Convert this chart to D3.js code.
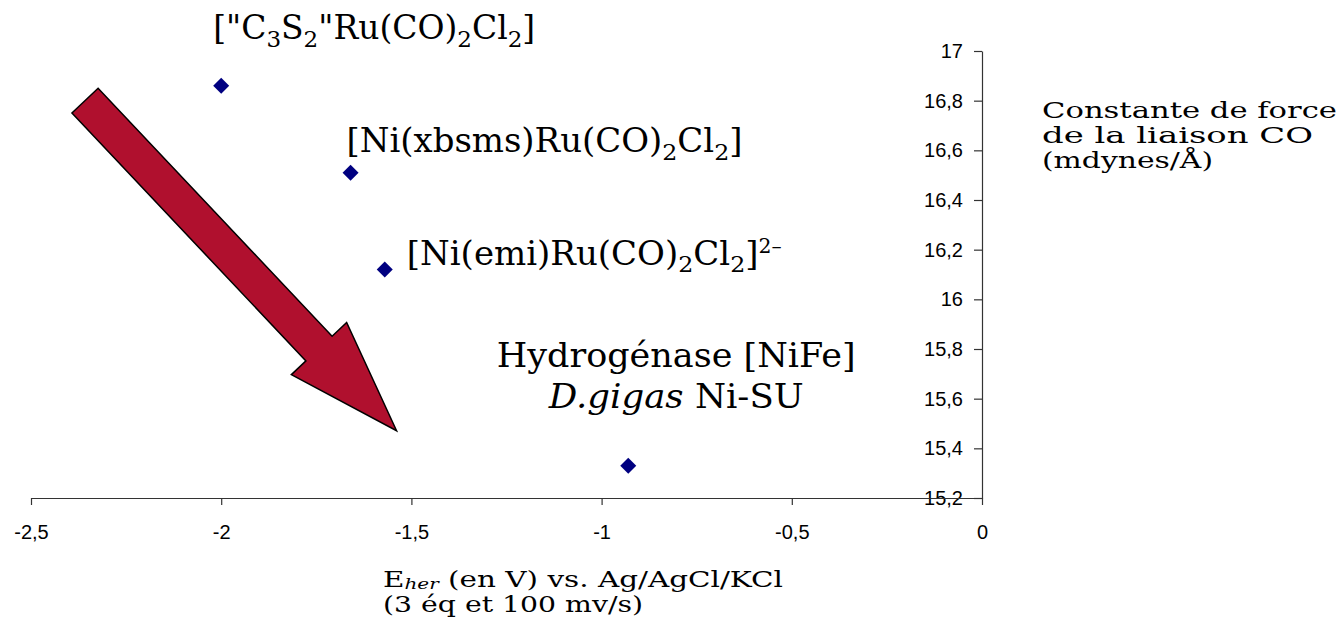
<!DOCTYPE html>
<html>
<head>
<meta charset="utf-8">
<script src="https://cdn.jsdelivr.net/npm/d3@7"></script>
<style>
  html, body { margin: 0; padding: 0; background: #fff; overflow: hidden; }
</style>
</head>
<body>
<div id="chart"></div>
<script>
// Chart data: E_her (V vs Ag/AgCl/KCl) vs CO force constant (mdynes/Å)
const compounds = [
    '["C3S2"Ru(CO)2Cl2]',
    '[Ni(xbsms)Ru(CO)2Cl2]',
    '[Ni(emi)Ru(CO)2Cl2]2–',
    'Hydrogénase [NiFe] D.gigas Ni-SU'
];
const eHer = [-2.0, -1.66, -1.57, -0.93];
const forceConst = [16.86, 16.51, 16.12, 15.33];
const xTicks = [-2.5, -2, -1.5, -1, -0.5, 0];
const yTicks = [15.2, 15.4, 15.6, 15.8, 16, 16.2, 16.4, 16.6, 16.8, 17];
// arrow drawn in data units: tail centre -> tip
const arrowFrom = [-2.358, 16.80];
const arrowTo = [-1.539, 15.471];

// rich-text pieces for the point labels (sub / sup / italic)
const labelParts = [
    [[{t: '["C'}, {t: '3', s: 'sub'}, {t: 'S'}, {t: '2', s: 'sub'}, {t: '"Ru(CO)'}, {t: '2', s: 'sub'}, {t: 'Cl'}, {t: '2', s: 'sub'}, {t: ']'}]],
    [[{t: '[Ni(xbsms)Ru(CO)'}, {t: '2', s: 'sub'}, {t: 'Cl'}, {t: '2', s: 'sub'}, {t: ']'}]],
    [[{t: '[Ni(emi)Ru(CO)'}, {t: '2', s: 'sub'}, {t: 'Cl'}, {t: '2', s: 'sub'}, {t: ']'}, {t: '2–', s: 'sup'}]],
    [[{t: 'Hydrogénase [NiFe]'}], [{t: 'D.gigas', s: 'it'}, {t: ' Ni-SU'}]]
];

const svgW = 1341, svgH = 632;
const serif = '"DejaVu Serif", "Liberation Serif", serif';
const sans = '"Liberation Sans", Arial, sans-serif';

const svg = d3.select('#chart').append('svg')
    .attr('width', svgW)
    .attr('height', svgH);

// scales
const x = d3.scaleLinear().domain([-2.5, 0]).range([31, 982]);
const y = d3.scaleLinear().domain([15.2, 17]).range([498, 51]);

const fr = d3.formatLocale({decimal: ',', thousands: '.', grouping: [3], currency: ['', ''], minus: '-'});
const fmt = fr.format('~g');

// y axis (drawn first so the x axis line crosses "15,2" like the original)
const yAxis = svg.append('g')
    .attr('transform', `translate(${x(0)},0)`)
    .call(d3.axisLeft(y).tickValues(yTicks).tickFormat(fmt).tickSize(8).tickSizeOuter(0).tickPadding(11));

const xAxis = svg.append('g')
    .attr('transform', `translate(0,${y(15.2)})`)
    .call(d3.axisBottom(x).tickValues(xTicks).tickFormat(fmt).tickSize(7).tickSizeOuter(0).tickPadding(20));

[yAxis, xAxis].forEach(g => {
    g.select('.domain').attr('stroke', '#333').attr('stroke-width', 1.2);
    g.selectAll('.tick line').attr('stroke', '#333').attr('stroke-width', 1.2);
    g.selectAll('.tick text')
        .attr('fill', '#000')
        .style('font-family', sans)
        .style('font-size', '20px');
});

// big red arrow
const p0 = [x(arrowFrom[0]), y(arrowFrom[1])];
const p1 = [x(arrowTo[0]), y(arrowTo[1])];
const len = Math.hypot(p1[0] - p0[0], p1[1] - p0[1]);
const ux = (p1[0] - p0[0]) / len, uy = (p1[1] - p0[1]) / len;
const nx = -uy, ny = ux;
const shaftHalf = 18, headHalf = 38, headLen = 113;
const bx = p1[0] - ux * headLen, by = p1[1] - uy * headLen;
const arrowPts = [
    [p0[0] + nx * shaftHalf, p0[1] + ny * shaftHalf],
    [bx + nx * shaftHalf, by + ny * shaftHalf],
    [bx + nx * headHalf, by + ny * headHalf],
    p1,
    [bx - nx * headHalf, by - ny * headHalf],
    [bx - nx * shaftHalf, by - ny * shaftHalf],
    [p0[0] - nx * shaftHalf, p0[1] - ny * shaftHalf]
];
svg.append('path')
    .attr('d', d3.line()(arrowPts) + 'Z')
    .attr('fill', '#b0102e')
    .attr('stroke', '#000')
    .attr('stroke-width', 1.5)
    .attr('stroke-linejoin', 'miter');

// points
const points = compounds.map((c, i) => ({name: c, ex: eHer[i], k: forceConst[i], parts: labelParts[i]}));

svg.selectAll('.pt')
    .data(points)
    .enter()
    .append('path')
    .attr('class', 'pt')
    .attr('d', d3.symbol(d3.symbolSquare, 128)())
    .attr('transform', d => `translate(${x(d.ex)},${y(d.k)}) rotate(45)`)
    .attr('fill', '#000080');

// writes a line of rich text into a <text> element
function richLine(textSel, parts, size, subDrop = 0.24) {
    let cur = 0;
    parts.forEach(p => {
        const ts = textSel.append('tspan').text(p.t);
        let target = 0;
        if (p.s === 'sub') { ts.style('font-size', (size * 0.7) + 'px'); target = size * subDrop; }
        else if (p.s === 'sup') { ts.style('font-size', (size * 0.6) + 'px'); target = -size * 0.36; }
        else if (p.s === 'subit') { ts.style('font-size', (size * 0.68) + 'px').style('font-style', 'italic'); target = size * subDrop; }
        else if (p.s === 'it') { ts.style('font-style', 'italic'); }
        if (target !== cur) ts.attr('dy', target - cur);
        cur = target;
    });
}

// label layout: offset from its point, anchor, widths per line
const labelSize = 33;
const labelLayout = [
    {dx: -8, dy: -47, anchor: 'start', widths: [322]},
    {dx: -4, dy: -21, anchor: 'start', widths: [396]},
    {dx: 22, dy: -5, anchor: 'start', widths: [375]},
    {dx: 48, dy: -99, anchor: 'middle', widths: [359, 255]}
];

points.forEach((d, i) => {
    const lay = labelLayout[i];
    d.parts.forEach((line, j) => {
        const t = svg.append('text')
            .attr('x', x(d.ex) + lay.dx)
            .attr('y', y(d.k) + lay.dy + j * 41)
            .attr('text-anchor', lay.anchor)
            .attr('textLength', lay.widths[j])
            .attr('lengthAdjust', 'spacingAndGlyphs')
            .style('font-family', serif)
            .style('font-size', labelSize + 'px')
            .attr('fill', '#000');
        richLine(t, line, labelSize);
    });
});

// axis titles
const titleSize = 23;
const xTitle = [
    {parts: [{t: 'E'}, {t: 'her', s: 'subit'}, {t: ' (en V) vs. Ag/AgCl/KCl'}], w: 400},
    {parts: [{t: '(3 éq et 100 mv/s)'}], w: 260}
];
xTitle.forEach((l, j) => {
    const t = svg.append('text')
        .attr('x', 383)
        .attr('y', 587 + j * 25)
        .attr('textLength', l.w)
        .attr('lengthAdjust', 'spacingAndGlyphs')
        .style('font-family', serif)
        .style('font-size', titleSize + 'px');
    richLine(t, l.parts, titleSize, 0.1);
});

const yTitle = [
    {parts: [{t: 'Constante de force'}], w: 295},
    {parts: [{t: 'de la liaison CO'}], w: 271},
    {parts: [{t: '(mdynes/Å)'}], w: 171}
];
yTitle.forEach((l, j) => {
    const t = svg.append('text')
        .attr('x', 1042)
        .attr('y', 118 + j * 25)
        .attr('textLength', l.w)
        .attr('lengthAdjust', 'spacingAndGlyphs')
        .style('font-family', serif)
        .style('font-size', titleSize + 'px');
    richLine(t, l.parts, titleSize);
});
</script>
</body>
</html>
